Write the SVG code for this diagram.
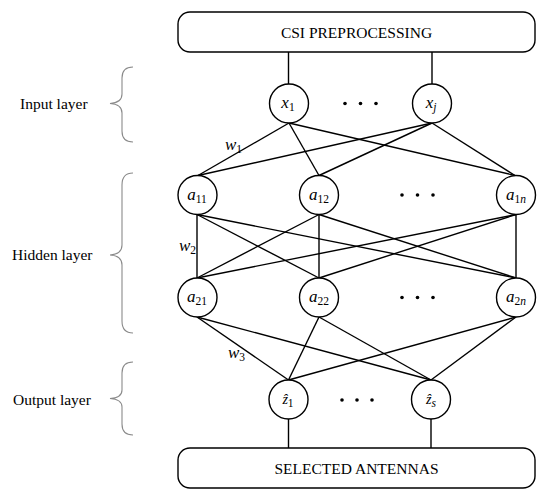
<svg xmlns="http://www.w3.org/2000/svg" width="550" height="501" viewBox="0 0 550 501">
<style>
text{font-family:"Liberation Serif","Times New Roman",serif;fill:#000}
.box{fill:#fff;stroke:#000;stroke-width:1.4}
.node{fill:#fff;stroke:#000;stroke-width:1.4}
.lbl{font-size:15.5px}
.nl{font-size:17px;font-style:italic}
.sub{font-size:11.5px;font-style:normal}
.subi{font-size:11.5px;font-style:italic}
.brace{fill:none;stroke:#8a8a8a;stroke-width:1.1}
#connectors line{stroke:#000;stroke-width:1.4}
.dot{fill:#000}
</style>
<rect width="550" height="501" fill="#fff"/>
<g id="connectors">
<line x1="288.5" y1="52" x2="288.5" y2="84"/>
<line x1="432" y1="52" x2="432" y2="84"/>
<line x1="289" y1="123" x2="198" y2="175.5"/>
<line x1="289" y1="123" x2="319" y2="175.5"/>
<line x1="289" y1="123" x2="515" y2="175.5"/>
<line x1="432" y1="123" x2="198" y2="175.5"/>
<line x1="432" y1="123" x2="319" y2="175.5"/>
<line x1="432" y1="123" x2="515" y2="175.5"/>
<line x1="197" y1="214.5" x2="197" y2="278"/>
<line x1="197" y1="214.5" x2="319" y2="278"/>
<line x1="197" y1="214.5" x2="516" y2="278"/>
<line x1="319" y1="214.5" x2="197" y2="278"/>
<line x1="319" y1="214.5" x2="319" y2="278"/>
<line x1="319" y1="214.5" x2="516" y2="278"/>
<line x1="516" y1="214.5" x2="197" y2="278"/>
<line x1="516" y1="214.5" x2="319" y2="278"/>
<line x1="516" y1="214.5" x2="516" y2="278"/>
<line x1="197" y1="317" x2="288.5" y2="380"/>
<line x1="197" y1="317" x2="431" y2="380"/>
<line x1="319" y1="317" x2="288.5" y2="380"/>
<line x1="319" y1="317" x2="431" y2="380"/>
<line x1="516" y1="317" x2="288.5" y2="380"/>
<line x1="516" y1="317" x2="431" y2="380"/>
<line x1="288.5" y1="419" x2="288.5" y2="448"/>
<line x1="431" y1="419" x2="431" y2="448"/>
</g>
<g id="csi-preprocessing">
<rect class="box" x="178" y="12" width="357" height="40" rx="12"/>
<text class="lbl" x="356.5" y="37.5" text-anchor="middle">CSI PREPROCESSING</text>
</g>
<g id="selected-antennas">
<rect class="box" x="178" y="448" width="357" height="40" rx="12"/>
<text class="lbl" x="356.5" y="473.5" text-anchor="middle">SELECTED ANTENNAS</text>
</g>
<g id="x1"><circle class="node" cx="289" cy="103.5" r="19.5"/><text class="nl" x="288" y="108" text-anchor="middle">x<tspan class="sub" dy="3">1</tspan></text></g>
<g id="xj"><circle class="node" cx="432" cy="103.5" r="19.5"/><text class="nl" x="431" y="108" text-anchor="middle">x<tspan class="subi" dy="3">j</tspan></text></g>
<g id="a11"><circle class="node" cx="197.5" cy="195" r="19.5"/><text class="nl" x="197" y="199.5" text-anchor="middle">a<tspan class="sub" dy="3">11</tspan></text></g>
<g id="a12"><circle class="node" cx="319" cy="195" r="19.5"/><text class="nl" x="319" y="199.5" text-anchor="middle">a<tspan class="sub" dy="3">12</tspan></text></g>
<g id="a1n"><circle class="node" cx="516" cy="195" r="19.5"/><text class="nl" x="516" y="199.5" text-anchor="middle">a<tspan class="sub" dy="3">1</tspan><tspan class="subi">n</tspan></text></g>
<g id="a21"><circle class="node" cx="197.5" cy="297.5" r="19.5"/><text class="nl" x="197" y="302" text-anchor="middle">a<tspan class="sub" dy="3">21</tspan></text></g>
<g id="a22"><circle class="node" cx="319" cy="297.5" r="19.5"/><text class="nl" x="319" y="302" text-anchor="middle">a<tspan class="sub" dy="3">22</tspan></text></g>
<g id="a2n"><circle class="node" cx="516" cy="297.5" r="19.5"/><text class="nl" x="516" y="302" text-anchor="middle">a<tspan class="sub" dy="3">2</tspan><tspan class="subi">n</tspan></text></g>
<g id="z1"><circle class="node" cx="288.5" cy="399.5" r="19.5"/><text class="nl" x="288" y="404" text-anchor="middle" style="font-size:14px">ẑ<tspan class="sub" dy="3">1</tspan></text></g>
<g id="zs"><circle class="node" cx="431" cy="399.5" r="19.5"/><text class="nl" x="431" y="404" text-anchor="middle" style="font-size:14px">ẑ<tspan class="subi" dy="3">s</tspan></text></g>
<g id="dots">
<circle class="dot" cx="345" cy="103.5" r="1.8"/><circle class="dot" cx="360.5" cy="103.5" r="1.8"/><circle class="dot" cx="376" cy="103.5" r="1.8"/>
<circle class="dot" cx="402" cy="195" r="1.8"/><circle class="dot" cx="417.5" cy="195" r="1.8"/><circle class="dot" cx="433" cy="195" r="1.8"/>
<circle class="dot" cx="402" cy="297.5" r="1.8"/><circle class="dot" cx="417.5" cy="297.5" r="1.8"/><circle class="dot" cx="433" cy="297.5" r="1.8"/>
<circle class="dot" cx="342" cy="400" r="1.8"/><circle class="dot" cx="357" cy="400" r="1.8"/><circle class="dot" cx="372" cy="400" r="1.8"/>
</g>
<g id="weights">
<text class="nl" x="225" y="150">w<tspan class="sub" dy="3">1</tspan></text>
<text class="nl" x="179" y="251">w<tspan class="sub" dy="3">2</tspan></text>
<text class="nl" x="228" y="358">w<tspan class="sub" dy="3">3</tspan></text>
</g>
<g id="input-layer">
<path class="brace" d="M133,67 C125,67 122,71 122,78 L122,94 C122,100 118,103 110,103.5 C118,104 122,107 122,113 L122,131 C122,138 125,142 133,142"/>
<text class="lbl" x="20" y="108.5">Input layer</text>
</g>
<g id="hidden-layer">
<path class="brace" d="M133,173 C125,173 122,177 122,185 L122,245 C122,251 118,254.5 110,255 C118,255.5 122,259 122,265 L122,321 C122,329 125,333 133,333"/>
<text class="lbl" x="12" y="259.5">Hidden layer</text>
</g>
<g id="output-layer">
<path class="brace" d="M133,362 C125,362 122,366 122,373 L122,390 C122,395 118,398 110,398.5 C118,399 122,402 122,407 L122,424 C122,431 125,435 133,435"/>
<text class="lbl" x="13" y="405">Output layer</text>
</g>
</svg>
